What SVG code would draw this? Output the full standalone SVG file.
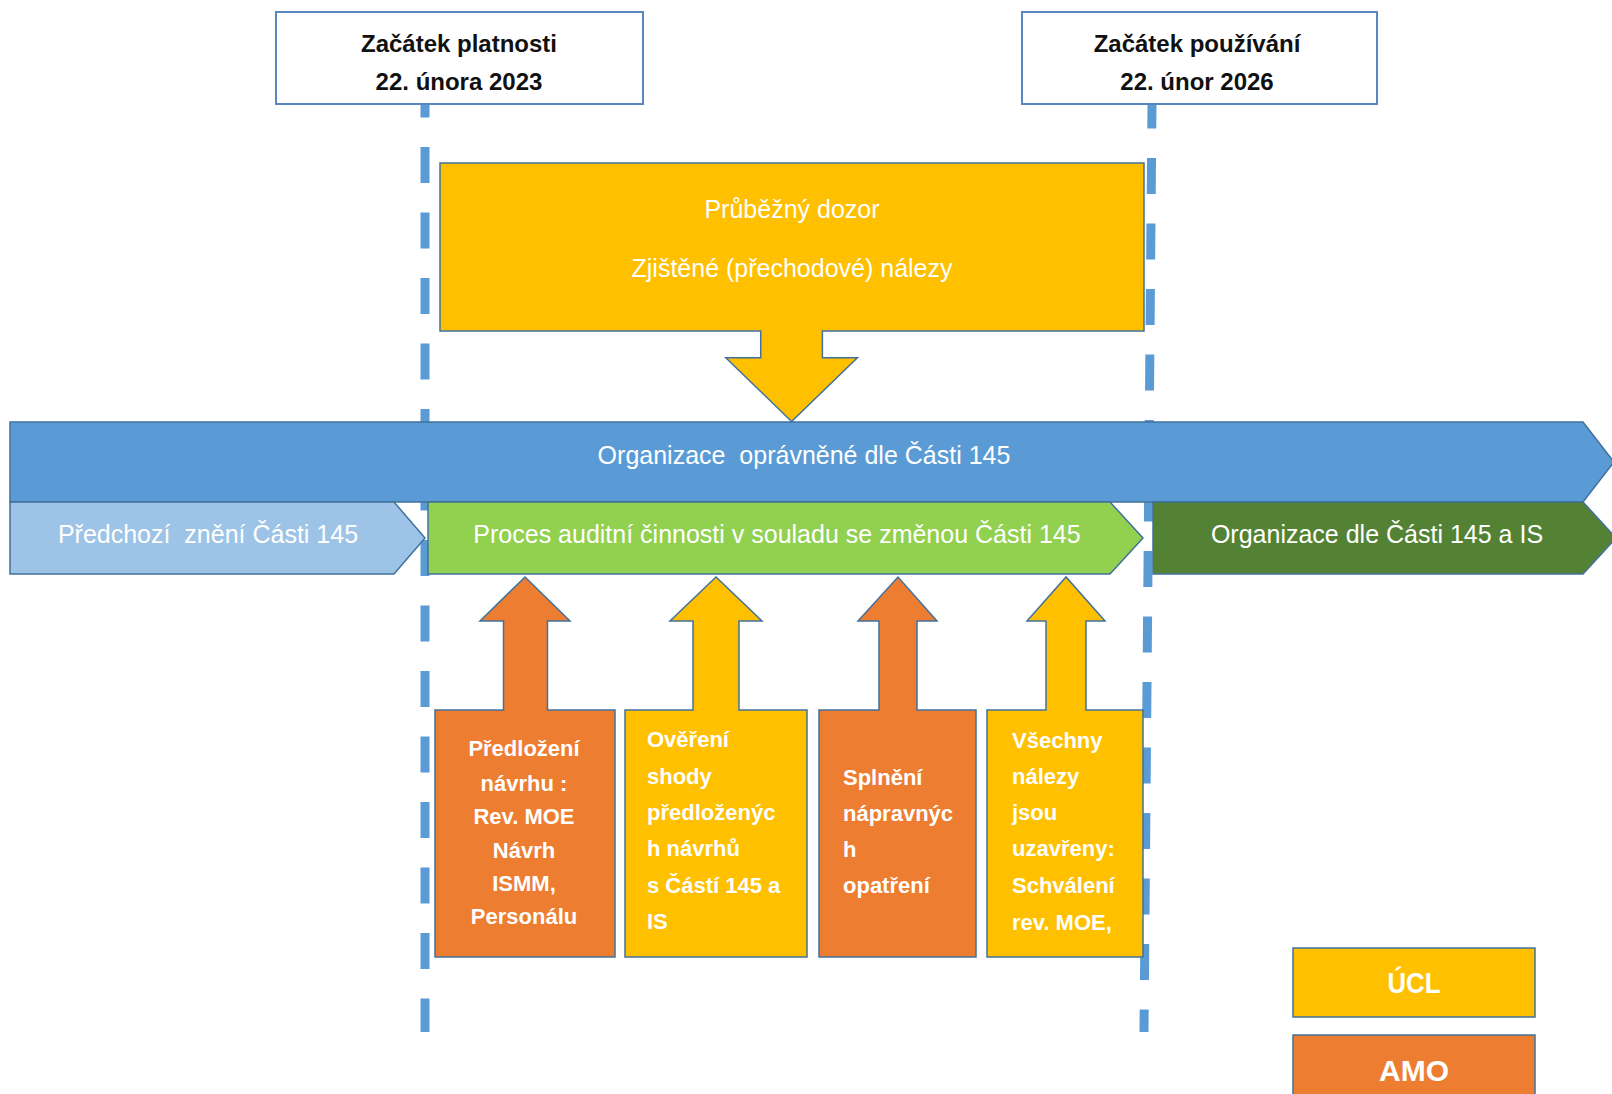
<svg xmlns="http://www.w3.org/2000/svg" width="1612" height="1094" viewBox="0 0 1612 1094">
<style>
.t{font-family:"Liberation Sans",Arial,sans-serif;}
.w{fill:#ffffff;}
.k{fill:#111111;}
.b{font-weight:bold;}
.bar{font-size:25px;text-anchor:middle;}
.top{font-size:24px;font-weight:bold;text-anchor:middle;}
.low{font-size:22px;font-weight:bold;}
.shape{stroke:#41719C;stroke-width:1.5;}
.dash{stroke:#5B9BD5;stroke-width:9;stroke-dasharray:36 29.5;fill:none;}
</style>
<rect width="1612" height="1094" fill="#ffffff"/>
<g id="connectors">
  <line class="dash" x1="425" y1="104" x2="425" y2="1032" stroke-dashoffset="22.5"/>
  <line class="dash" x1="1152" y1="104" x2="1144" y2="1032" stroke-dashoffset="11.5"/>
</g>
<g id="start-validity">
  <rect x="276" y="12" width="367" height="92" fill="#ffffff" stroke="#5B87C0" stroke-width="2"/>
  <text class="t top k" x="459" y="52">Začátek platnosti</text>
  <text class="t top k" x="459" y="90">22. února 2023</text>
</g>
<g id="start-use">
  <rect x="1022" y="12" width="355" height="92" fill="#ffffff" stroke="#5B87C0" stroke-width="2"/>
  <text class="t top k" x="1197" y="52">Začátek používání</text>
  <text class="t top k" x="1197" y="90">22. únor 2026</text>
</g>
<g id="ongoing-oversight">
  <path class="shape" fill="#FFC000" d="M440,163 H1144 V331 H822.4 V357.7 H857.4 L791.6,421.5 L725.8,357.7 H760.7 V331 H440 Z"/>
  <text class="t bar w" x="792" y="218">Průběžný dozor</text>
  <text class="t bar w" x="792" y="277">Zjištěné (přechodové) nálezy</text>
</g>
<g id="approved-org">
  <path class="shape" fill="#5B9BD5" d="M10,422 H1583 L1614,462 L1583,502 H10 Z"/>
  <text class="t bar w" x="804" y="464" xml:space="preserve">Organizace  oprávněné dle Části 145</text>
</g>
<g id="previous-version">
  <path class="shape" fill="#9DC3E6" d="M10,502 H394 L425,538 L394,574 H10 Z"/>
  <text class="t bar w" x="208" y="543" xml:space="preserve">Předchozí  znění Části 145</text>
</g>
<g id="audit-process">
  <path class="shape" fill="#92D050" d="M428,502 H1110 L1143,538 L1110,574 H428 Z"/>
  <text class="t bar w" x="777" y="543">Proces auditní činnosti v souladu se změnou Části 145</text>
</g>
<g id="org-part145-is">
  <path class="shape" fill="#548235" d="M1153,502 H1583 L1616,538 L1583,574 H1153 Z"/>
  <text class="t bar w" x="1377" y="543">Organizace dle Části 145 a IS</text>
</g>
<g id="submission">
  <path class="shape" fill="#ED7D31" d="M435,710 H503.5 V621 H480 L525,577 L570,621 H547.5 V710 H615 V957 H435 Z"/>
  <g class="t low w" text-anchor="middle">
    <text x="524" y="756">Předložení</text>
    <text x="524" y="791">návrhu :</text>
    <text x="524" y="824">Rev. MOE</text>
    <text x="524" y="858">Návrh</text>
    <text x="524" y="891">ISMM,</text>
    <text x="524" y="924">Personálu</text>
  </g>
</g>
<g id="verification">
  <path class="shape" fill="#FFC000" d="M625,710 H693 V621 H670 L716,577 L762,621 H739 V710 H807 V957 H625 Z"/>
  <g class="t low w">
    <text x="647" y="747">Ověření</text>
    <text x="647" y="784">shody</text>
    <text x="647" y="820">předloženýc</text>
    <text x="647" y="856">h návrhů</text>
    <text x="647" y="893">s Částí 145 a</text>
    <text x="647" y="929">IS</text>
  </g>
</g>
<g id="corrective-actions">
  <path class="shape" fill="#ED7D31" d="M819,710 H879 V621 H858 L898,577 L937,621 H917 V710 H976 V957 H819 Z"/>
  <g class="t low w">
    <text x="843" y="785">Splnění</text>
    <text x="843" y="821">nápravnýc</text>
    <text x="843" y="857">h</text>
    <text x="843" y="893">opatření</text>
  </g>
</g>
<g id="findings-closed">
  <path class="shape" fill="#FFC000" d="M987,710 H1046 V621 H1027 L1066,577 L1105,621 H1086 V710 H1143 V957 H987 Z"/>
  <g class="t low w">
    <text x="1012" y="748">Všechny</text>
    <text x="1012" y="784">nálezy</text>
    <text x="1012" y="820">jsou</text>
    <text x="1012" y="856">uzavřeny:</text>
    <text x="1012" y="893">Schválení</text>
    <text x="1012" y="930">rev. MOE,</text>
  </g>
</g>
<g id="legend-ucl">
  <rect class="shape" x="1293" y="948" width="242" height="69" fill="#FFC000"/>
  <text class="t b w" x="1414" y="993" font-size="29" text-anchor="middle" textLength="53" lengthAdjust="spacingAndGlyphs">ÚCL</text>
</g>
<g id="legend-amo">
  <rect class="shape" x="1293" y="1035" width="242" height="80" fill="#ED7D31"/>
  <text class="t b w" x="1414" y="1081" font-size="30" text-anchor="middle">AMO</text>
</g>
</svg>
